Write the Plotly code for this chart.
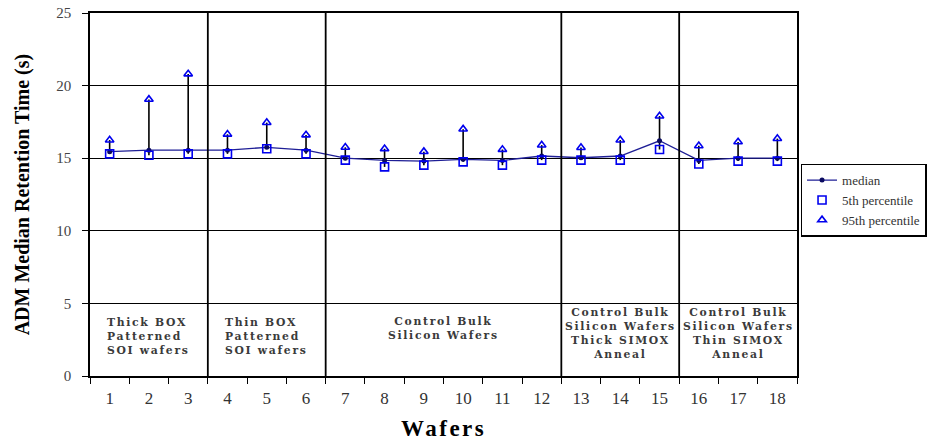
import plotly.graph_objects as go

# Wafer numbers and retention-time statistics (seconds)
wafers = list(range(1, 19))
median = [15.45, 15.55, 15.55, 15.55, 15.75, 15.55,
          15.0, 14.85, 14.8, 14.92, 14.85, 15.15,
          15.03, 15.15, 16.2,
          14.85, 15.0, 15.0]
p5 = [15.3, 15.2, 15.3, 15.3, 15.65, 15.3,
      14.87, 14.4, 14.52, 14.75, 14.52, 14.87,
      14.87, 14.87, 15.6,
      14.6, 14.8, 14.8]
p95 = [16.25, 19.05, 20.8, 16.65, 17.45, 16.6,
       15.75, 15.65, 15.45, 17.0, 15.6, 15.9,
       15.73, 16.25, 17.9,
       15.85, 16.12, 16.35]

# Wafer groups: number of wafers per group and the group captions
group_sizes = [3, 3, 6, 3, 3]
group_labels = [
    "Thick BOX<br>Patterned<br>SOI wafers",
    "Thin BOX<br>Patterned<br>SOI wafers",
    "Control Bulk<br>Silicon Wafers",
    "Control Bulk<br>Silicon Wafers<br>Thick SIMOX<br>Anneal",
    "Control Bulk<br>Silicon Wafers<br>Thin SIMOX<br>Anneal",
]

SERIF = "Liberation Serif"
BLUE = "#0000ee"
NAVY = "#1e1e96"

fig = go.Figure()

# high-low stems from 5th to 95th percentile
sx, sy = [], []
for w, lo, hi in zip(wafers, p5, p95):
    sx += [w, w, None]
    sy += [lo, hi, None]
fig.add_trace(go.Scatter(x=sx, y=sy, mode="lines",
                         line=dict(color="black", width=1.6),
                         showlegend=False, hoverinfo="skip"))

fig.add_trace(go.Scatter(x=wafers, y=median, mode="lines+markers", name="median",
                         line=dict(color=NAVY, width=1.3),
                         marker=dict(color="#0a0a60", size=5, symbol="circle")))
fig.add_trace(go.Scatter(x=wafers, y=p5, mode="markers", name="5th percentile",
                         marker=dict(symbol="square-open", size=8, color=BLUE,
                                     line=dict(width=1.6, color=BLUE))))
fig.add_trace(go.Scatter(x=wafers, y=p95, mode="markers", name="95th percentile",
                         marker=dict(symbol="triangle-up-open", size=7.5, color=BLUE,
                                     line=dict(width=1.6, color=BLUE))))

# group dividers and captions
shapes = []
annotations = []
SPACED = '<span style="letter-spacing:1.7px">'
start = 0.5
for size, label in zip(group_sizes, group_labels):
    end = start + size
    if end < 18.5:
        shapes.append(dict(type="line", xref="x", yref="y", x0=end, x1=end, y0=0, y1=25,
                           line=dict(color="black", width=1.8)))
    nlines = label.count("<br>") + 1
    if size == 3 and nlines == 3:
        ann = dict(x=start + 0.38, xanchor="left", align="left", y=2.72)
    else:
        ann = dict(x=(start + end) / 2, xanchor="center", align="center",
                   y=3.24 if nlines == 2 else 2.96)
    ann.update(text=SPACED + label.replace("<br>", "</span><br>" + SPACED) + "</span>",
               xref="x", yref="y", yanchor="middle", showarrow=False,
               font=dict(family="DejaVu Serif", size=10.8, color="#3a3a3a",
                         weight="bold"))
    annotations.append(ann)
    start = end

# axis titles
annotations.append(dict(text='<span style="letter-spacing:2.5px"><b>Wafers</b></span>',
                        xref="paper", yref="paper",
                        x=0.5, y=-0.146, xanchor="center", yanchor="middle",
                        showarrow=False,
                        font=dict(family=SERIF, size=23, color="black")))
annotations.append(dict(text="<b>ADM Median Retention Time (s)</b>", xref="paper",
                        yref="paper", x=-0.095, y=0.5, xanchor="center", yanchor="middle",
                        textangle=-90, showarrow=False,
                        font=dict(family=SERIF, size=20, color="black")))

# tick marks on the wafer boundaries
boundary_ticks = [i + 0.5 for i in range(0, 19)]

fig.update_layout(
    width=943, height=443,
    margin=dict(l=90, r=146, t=13, b=67),
    paper_bgcolor="white", plot_bgcolor="white",
    shapes=shapes, annotations=annotations,
    font=dict(family=SERIF, color="#333"),
    legend=dict(x=1.005, xanchor="left", y=0.585, yanchor="top",
                bordercolor="black", borderwidth=1.5,
                font=dict(family=SERIF, size=13, color="#333"),
                tracegroupgap=0, itemwidth=30),
    xaxis=dict(range=[0.5, 18.5], tickvals=wafers, ticktext=[str(w) for w in wafers],
               ticks="", showgrid=False, zeroline=False, ticklabelstandoff=6,
               automargin=False,
               showline=True, mirror=True, linecolor="black", linewidth=1.5,
               tickfont=dict(family=SERIF, size=17, color="#333"),
               minor=dict(tickmode="array", tickvals=boundary_ticks,
                          ticks="outside", ticklen=6, tickwidth=1.3, tickcolor="black")),
    yaxis=dict(range=[0, 25], dtick=5, ticks="outside", ticklen=6, tickwidth=1.3,
               tickcolor="black", showgrid=True, gridcolor="black", gridwidth=1.3,
               zeroline=False, showline=True, mirror=True, linecolor="black", linewidth=1.5,
               ticklabelstandoff=8, automargin=False,
               tickfont=dict(family=SERIF, size=15, color="#444")),
)

fig.write_html("out.html")
